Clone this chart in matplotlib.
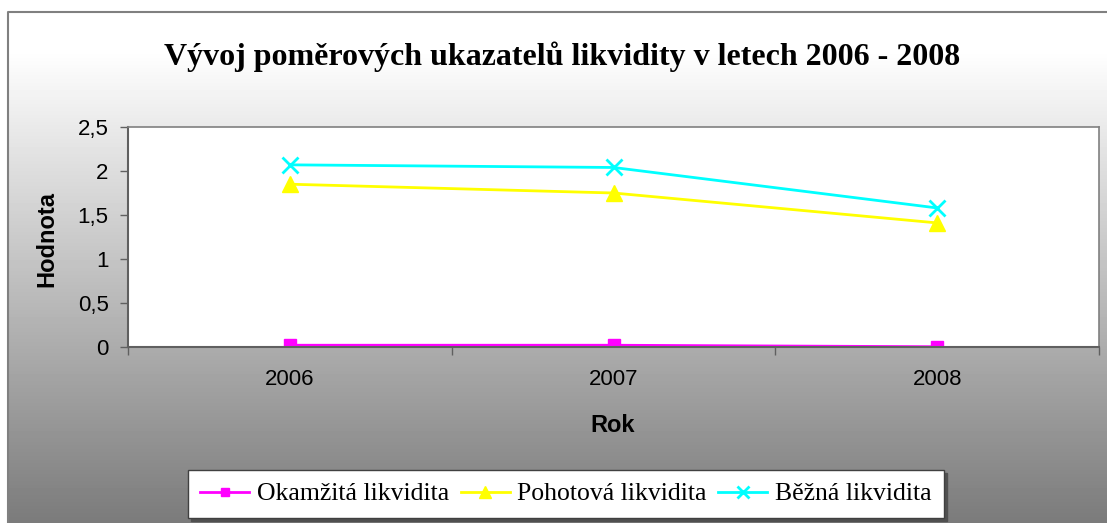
import matplotlib.pyplot as plt
import numpy as np
from matplotlib.ticker import FuncFormatter, FixedLocator

years = ['2006', '2007', '2008']
okamzita = [0.02, 0.02, 0.003]
pohotova = [1.85, 1.75, 1.41]
bezna = [2.07, 2.04, 1.58]

W, H = 1107, 523

fig = plt.figure(figsize=(W / 100, H / 100), dpi=100, facecolor='white')

# gradient background of the chart area (border only on left and top, rest is cut off)
bg = fig.add_axes([0, 0, 1, 1], zorder=0)
rows = np.arange(12, H + 5)
shade = np.clip(255 - np.clip(rows - 50, 0, None) * 0.28, 0, 255) / 255.0
grad = np.repeat(shade[:, None], 10, axis=1)
bg.imshow(grad, cmap='gray', vmin=0, vmax=1, aspect='auto', extent=[8, W + 5, H + 5, 12])
bg.plot([8, 8, W + 5], [H + 5, 12, 12], color='#808080', lw=1.5)
bg.set_xlim(0, W)
bg.set_ylim(H, 0)
bg.axis('off')

ax = fig.add_axes([128 / W, 1 - 347 / H, (1099 - 128) / W, (347 - 127) / H], zorder=2)
ax.set_facecolor('white')

ax.plot(years, okamzita, color='#FF00FF', lw=2, marker='s', ms=8, label='Okamžitá likvidita')
ax.plot(years, pohotova, color='#FFFF00', lw=2, marker='^', ms=11, label='Pohotová likvidita')
ax.plot(years, bezna, color='#00FFFF', lw=2, marker='x', ms=11, mew=2, label='Běžná likvidita')

ax.set_xlim(-0.5, 2.5)
ax.set_ylim(0, 2.5)
ax.set_yticks([0, 0.5, 1, 1.5, 2, 2.5])
ax.yaxis.set_major_formatter(FuncFormatter(lambda v, p: f'{v:g}'.replace('.', ',')))
ax.xaxis.set_minor_locator(FixedLocator([-0.5, 0.5, 1.5, 2.5]))

for s in ['top', 'right']:
    ax.spines[s].set_color('#808080')
    ax.spines[s].set_linewidth(1.2)
for s in ['left', 'bottom']:
    ax.spines[s].set_color('#606060')
    ax.spines[s].set_linewidth(1.5)

ax.tick_params(axis='y', length=6, width=1, color='#606060', pad=8,
               labelsize=16, labelfontfamily='Liberation Sans')
ax.tick_params(axis='x', which='major', length=0, pad=16,
               labelsize=16, labelfontfamily='Liberation Sans')
ax.tick_params(axis='x', which='minor', length=6, width=1, color='#606060')

fig.text(47 / W, 1 - 239 / H, 'Hodnota', rotation=90, ha='center', va='center',
         fontsize=17, fontweight='bold', family='Liberation Sans')
fig.text(613 / W, 1 - 425 / H, 'Rok', ha='center', va='center',
         fontsize=17, fontweight='bold', family='Liberation Sans')

fig.text(562 / W, 1 - 65 / H, 'Vývoj poměrových ukazatelů likvidity v letech 2006 - 2008',
         ha='center', va='baseline', fontsize=23, fontweight='bold', family='Liberation Serif')

leg = fig.legend(loc='center', bbox_to_anchor=(566 / W, 1 - 494 / H), ncol=3,
                 prop={'family': 'Liberation Serif', 'size': 18.5}, frameon=True,
                 fancybox=False, edgecolor='#404040', framealpha=1,
                 handlelength=1.9, handletextpad=0.3, columnspacing=0.45,
                 borderpad=0.48, markerscale=0.75,
                 shadow={'color': '#505050', 'ox': 2, 'oy': -2, 'alpha': 1})
leg.set_zorder(3)

fig.savefig('out.png', dpi=100)
